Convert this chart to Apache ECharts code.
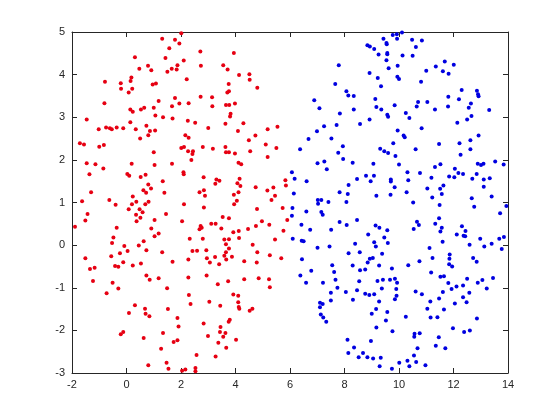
<!DOCTYPE html>
<html><head><meta charset="utf-8">
<script src="https://cdn.jsdelivr.net/npm/echarts@6/dist/echarts.min.js"></script>
<style>html,body{margin:0;padding:0;background:#fff}#c{width:560px;height:420px}</style>
</head><body><div id="c"></div>
<script>
const xTicks = [-2, 0, 2, 4, 6, 8, 10, 12, 14];
const yTicks = [-3, -2, -1, 0, 1, 2, 3, 4, 5];

const redPoints = [
[1.31,4.84],[1.78,4.82],[1.94,4.73],[1.57,4.62],[1.43,4.39],[0.31,4.41],[0.47,4.14],[0.18,3.93],[0.79,4.21],[0.91,4.10],[1.50,4.07],[1.66,4.14],[1.87,4.22],[1.84,4.12],[-0.79,3.83],[-0.21,3.80],[0.15,3.85],[-0.20,3.67],[0.21,3.67],[0.08,3.58],[0.96,3.77],[1.08,3.79],[1.18,3.38],[1.78,3.45],[-0.81,3.33],[0.14,3.18],[0.23,3.13],[0.53,3.18],[0.65,3.22],[1.00,3.22],[1.67,3.26],[1.94,3.32],[-1.46,2.95],[-1.02,2.72],[-0.75,2.76],[-0.61,2.74],[-0.54,2.72],[-0.36,2.76],[-0.12,2.74],[0.14,2.88],[0.34,2.72],[0.73,2.80],[0.80,2.58],[0.86,2.68],[1.05,2.69],[1.06,3.04],[1.34,3.00],[1.69,2.97],[-1.71,2.39],[-1.56,2.36],[-0.83,2.35],[0.50,2.50],
[2.01,4.97],[2.71,4.54],[3.94,4.51],[2.10,4.33],[2.73,4.21],[3.55,4.22],[3.71,4.12],[4.13,3.99],[4.51,4.01],[4.52,3.88],[4.80,3.69],[2.21,3.89],[3.75,3.78],[3.76,3.61],[3.70,3.58],[2.72,3.48],[3.14,3.47],[2.28,3.33],[3.15,3.26],[3.65,3.29],[3.77,3.29],[3.98,3.32],[2.25,2.92],[2.52,2.87],[3.00,2.75],[3.63,2.85],[3.80,3.02],[3.82,3.08],[4.29,2.86],[4.09,2.68],[5.18,2.72],[5.54,2.78],[2.16,2.58],[2.28,2.52],[4.73,2.57],[4.49,2.46],[5.11,2.36],
[-1.00,2.31],[1.00,2.18],[-1.46,1.92],[-1.14,1.90],[-0.85,1.80],[-1.36,1.66],[0.19,1.91],[1.03,1.88],[1.67,1.91],[0.03,1.67],[0.10,1.63],[0.52,1.60],[0.70,1.65],[1.33,1.50],[-1.30,1.24],[0.80,1.42],[0.90,1.33],[0.62,1.29],[0.72,1.23],[1.39,1.23],[0.23,1.14],[-0.63,1.06],[-1.63,1.03],[-0.40,0.95],[0.20,0.96],[0.36,1.02],[0.69,0.96],[0.81,1.02],[0.08,0.84],[0.48,0.84],[0.59,0.77],[0.35,0.71],[0.51,0.64],[0.37,0.56],[1.45,0.73],[-1.43,0.73],[-1.51,0.58],[1.03,0.59],[-1.89,0.43],[-0.36,0.41],[0.91,0.39],[1.18,0.27],[1.03,0.21],[-0.48,0.18],[-0.53,0.05],[0.63,0.09],[-0.08,-0.02],[0.45,-0.01],[0.04,-0.14],[0.73,-0.12],[-0.24,-0.19],[-0.56,-0.26],[1.31,-0.17],[-1.51,-0.31],
[2.01,2.28],[2.11,2.30],[2.26,2.20],[2.44,2.20],[2.42,2.14],[2.38,2.00],[2.80,2.30],[3.17,2.26],[3.63,2.30],[3.65,2.18],[3.76,2.18],[3.98,2.15],[4.54,2.20],[5.50,2.28],[5.18,2.07],[4.11,1.93],[4.21,1.90],[2.09,1.71],[2.10,1.66],[2.83,1.59],[3.30,1.54],[3.41,1.51],[3.26,1.44],[4.15,1.56],[4.07,1.45],[4.18,1.39],[4.74,1.36],[5.39,1.35],[5.83,1.52],[5.85,1.40],[2.84,1.29],[2.68,1.24],[2.88,1.16],[4.11,1.24],[3.94,1.18],[5.17,1.28],[5.45,1.16],[5.32,1.06],[4.05,1.04],[3.95,0.96],[2.11,0.96],[2.84,0.88],[4.79,0.85],[5.73,0.87],[3.53,0.66],[3.76,0.63],[2.04,0.56],[3.11,0.50],[3.27,0.50],[2.72,0.45],[2.76,0.41],[2.68,0.37],[3.48,0.39],[3.92,0.30],[4.12,0.33],[4.46,0.38],[4.75,0.45],[4.97,0.56],[5.24,0.48],[5.90,0.59],[5.76,0.34],[2.32,0.15],[2.80,0.15],[3.59,0.13],[3.76,0.14],[4.13,0.17],[4.63,0.01],[5.45,0.13],[3.65,0.02],[3.76,-0.08],[2.42,-0.14],[2.59,-0.13],[2.93,-0.12],[3.65,-0.17],[4.80,-0.17],[5.26,-0.24],[3.59,-0.25],[3.25,-0.28],[2.95,-0.31],[2.27,-0.34],[5.68,-0.31],
[-1.34,-0.56],[-1.17,-0.53],[-0.42,-0.49],[-0.30,-0.51],[-0.12,-0.40],[0.23,-0.48],[0.53,-0.43],[0.73,-0.71],[0.85,-0.81],[1.18,-0.78],[1.69,-0.39],[-1.23,-0.84],[-0.51,-0.88],[-0.30,-1.02],[-0.73,-1.13],[1.49,-1.01],[0.31,-1.41],[0.09,-1.59],[0.68,-1.49],[0.70,-1.61],[0.84,-1.67],[1.52,-1.50],[1.87,-1.71],[1.91,-1.91],[-0.21,-2.09],[-0.12,-2.04],[0.63,-2.18],[1.34,-2.06],[1.87,-2.23],[1.73,-2.27],[1.27,-2.43],[0.80,-2.82],[1.47,-2.76],[1.54,-2.90],
[3.06,-0.41],[3.40,-0.45],[3.66,-0.34],[3.87,-0.27],[4.32,-0.38],[4.78,-0.41],[2.27,-0.76],[2.94,-0.71],[3.35,-0.92],[3.73,-0.85],[4.32,-0.80],[4.85,-0.78],[5.23,-0.80],[5.26,-0.99],[2.29,-1.17],[2.35,-1.38],[3.04,-1.33],[3.44,-1.42],[3.92,-1.16],[4.10,-1.19],[4.10,-1.34],[4.12,-1.45],[4.14,-1.49],[4.52,-1.54],[4.62,-1.49],[2.83,-1.84],[3.45,-1.92],[3.75,-1.80],[3.79,-1.75],[3.43,-2.04],[3.63,-2.06],[2.99,-2.13],[3.55,-2.15],[4.02,-2.22],[3.37,-2.29],[3.66,-2.41],[2.57,-2.58],[3.27,-2.61],[2.04,-2.95],[2.16,-2.92],[2.53,-2.88],[2.53,-2.96]
];

const bluePoints = [
[9.77,4.93],[9.92,4.95],[9.43,4.84],[9.54,4.74],[9.55,4.71],[9.93,4.84],[8.84,4.69],[8.93,4.66],[9.09,4.60],[9.25,4.47],[9.57,4.51],[9.57,4.48],[9.54,4.34],[7.79,4.22],[9.62,4.15],[9.95,4.21],[8.92,4.04],[9.22,3.92],[9.94,3.95],[10.00,3.90],[7.66,3.78],[9.34,3.73],[8.07,3.61],[8.14,3.51],[8.34,3.50],[6.89,3.40],[9.13,3.43],[9.17,3.24],[9.35,3.18],[9.84,3.28],[7.08,3.21],[8.34,3.18],[7.83,3.09],[9.57,3.06],[9.60,3.01],[8.92,2.95],[8.57,2.84],[7.25,2.79],[7.71,2.82],[6.99,2.67],[9.95,2.69],[6.68,2.49],[7.52,2.50],[9.79,2.39],
[10.11,4.99],[10.48,4.82],[10.84,4.80],[10.62,4.65],[10.13,4.45],[10.50,4.44],[11.68,4.31],[11.35,4.19],[11.00,4.09],[11.61,4.08],[11.82,4.02],[12.01,4.23],[10.81,3.83],[12.30,3.64],[12.86,3.62],[12.90,3.54],[12.92,3.49],[11.81,3.48],[12.20,3.42],[10.70,3.36],[11.04,3.36],[10.65,3.25],[11.80,3.25],[11.32,3.18],[12.64,3.32],[12.56,3.22],[13.31,3.17],[10.25,3.10],[10.38,2.98],[12.66,3.03],[12.50,2.95],[12.14,2.87],[10.83,2.74],[10.17,2.57],[10.21,2.53],[12.92,2.57],[12.62,2.46],[12.22,2.39],[11.47,2.37],
[6.37,2.25],[7.94,2.32],[7.77,2.17],[7.95,2.02],[9.31,2.26],[9.46,2.20],[9.60,2.16],[9.87,2.09],[7.01,1.92],[7.26,1.96],[7.35,1.78],[8.30,1.93],[9.06,1.91],[10.00,1.89],[6.07,1.71],[6.17,1.56],[6.61,1.50],[8.46,1.55],[8.79,1.63],[9.08,1.63],[8.96,1.50],[9.70,1.54],[9.70,1.49],[9.84,1.36],[8.15,1.41],[6.14,1.21],[7.82,1.24],[8.12,1.20],[9.17,1.16],[9.69,1.18],[7.02,1.06],[7.03,0.97],[7.15,1.06],[7.41,1.01],[8.07,1.01],[6.09,0.87],[6.60,0.79],[7.15,0.78],[7.20,0.71],[6.07,0.69],[7.82,0.54],[8.08,0.47],[8.46,0.59],[6.42,0.48],[6.74,0.36],[7.51,0.36],[9.14,0.46],[9.28,0.41],[9.57,0.35],[8.87,0.25],[9.46,0.18],[6.10,0.15],[6.43,0.10],[6.50,0.09],[8.39,0.03],[9.09,0.07],[9.59,0.05],[7.01,-0.06],[7.45,-0.03],[8.15,-0.19],[8.56,-0.17],[9.15,-0.03],[9.38,-0.20],[8.93,-0.32],[9.04,-0.30],[6.44,-0.33],
[10.61,2.25],[12.62,2.25],[12.26,2.12],[11.32,1.83],[11.52,1.90],[10.31,1.71],[10.77,1.69],[12.05,1.79],[12.18,1.69],[12.35,1.67],[12.89,1.91],[13.01,1.88],[13.10,1.91],[13.53,1.96],[13.84,1.89],[12.85,1.67],[11.84,1.61],[12.03,1.59],[11.19,1.58],[10.34,1.52],[12.69,1.56],[13.11,1.54],[13.33,1.57],[11.04,1.33],[11.51,1.32],[11.63,1.40],[13.11,1.37],[10.28,1.24],[11.57,1.20],[11.22,1.12],[12.67,1.10],[13.40,1.14],[10.52,1.00],[11.49,0.94],[12.76,0.90],[13.94,0.92],[13.71,0.75],[11.47,0.63],[10.66,0.55],[10.73,0.47],[11.33,0.50],[11.57,0.41],[11.52,0.32],[10.54,0.38],[12.31,0.44],[12.44,0.33],[12.37,0.22],[12.43,0.21],[12.12,0.25],[12.98,0.15],[13.68,0.15],[13.85,0.19],[11.60,0.08],[12.59,0.01],[13.13,-0.03],[13.40,0.03],[13.77,-0.09],[11.12,-0.07],[11.86,-0.22],[11.85,-0.32],[11.23,-0.30],[12.72,-0.30],
[8.85,-0.41],[6.38,-0.71],[6.78,-0.60],[7.55,-0.47],[7.62,-0.63],[8.30,-0.48],[8.57,-0.59],[8.76,-0.57],[9.27,-0.48],[9.74,-0.55],[6.59,-0.88],[7.21,-0.88],[7.67,-0.81],[7.74,-1.00],[8.54,-0.85],[9.21,-0.84],[9.41,-0.81],[9.67,-0.81],[9.85,-0.79],[9.93,-0.88],[9.37,-1.02],[9.90,-1.03],[9.91,-1.19],[9.85,-1.27],[8.05,-1.10],[8.46,-1.06],[8.76,-1.14],[8.91,-1.17],[9.09,-1.15],[7.50,-1.12],[8.31,-1.28],[7.50,-1.30],[9.27,-1.32],[7.10,-1.35],[7.20,-1.38],[7.10,-1.46],[9.16,-1.50],[9.00,-1.61],[9.57,-1.57],[7.13,-1.63],[7.22,-1.70],[7.33,-1.80],[9.52,-1.77],[9.17,-1.93],[9.76,-2.02],[8.11,-2.22],[8.97,-2.25],[8.35,-2.40],[8.14,-2.53],[8.68,-2.53],[8.52,-2.63],[8.84,-2.63],[9.05,-2.66],[9.33,-2.64],[9.29,-2.84],[9.74,-2.90],[10.01,-2.76],
[10.34,-0.47],[10.75,-0.38],[11.84,-0.45],[11.95,-0.50],[12.85,-0.39],[11.18,-0.64],[11.52,-0.74],[11.65,-0.73],[12.50,-0.79],[12.89,-0.88],[13.06,-0.82],[13.45,-0.77],[13.22,-1.02],[11.81,-0.89],[11.93,-1.03],[12.11,-0.97],[12.35,-0.95],[12.58,-1.12],[10.61,-1.09],[10.84,-1.15],[11.61,-1.10],[11.47,-1.25],[12.35,-1.22],[11.15,-1.32],[12.05,-1.37],[12.48,-1.34],[11.04,-1.49],[11.65,-1.51],[11.16,-1.70],[11.41,-1.69],[10.25,-1.68],[12.86,-1.72],[11.98,-1.95],[12.39,-2.04],[12.60,-2.00],[10.57,-2.08],[10.56,-2.15],[10.76,-2.07],[11.46,-2.16],[11.35,-2.36],[11.70,-2.42],[10.68,-2.42],[10.55,-2.59],[10.31,-2.71],[10.63,-2.74],[10.38,-2.84],[10.97,-2.82]
];

const axisColor = '#262626';
const font = '"Liberation Sans", Arial, Helvetica, sans-serif';
function xAxisCfg(pos, showLabels) {
  return {
    type: 'value', position: pos, min: xTicks[0], max: xTicks[xTicks.length-1], interval: 2,
    axisLine: {show: true, onZero: false, lineStyle: {color: axisColor, width: 1}},
    axisTick: {show: true, inside: true, length: 5, lineStyle: {color: axisColor}},
    axisLabel: {show: showLabels, color: axisColor, fontSize: 11, fontFamily: font, margin: 6},
    splitLine: {show: false}
  };
}
function yAxisCfg(pos, showLabels) {
  return {
    type: 'value', position: pos, min: yTicks[0], max: yTicks[yTicks.length-1], interval: 1,
    axisLine: {show: true, onZero: false, lineStyle: {color: axisColor, width: 1}},
    axisTick: {show: true, inside: true, length: 5, lineStyle: {color: axisColor}},
    axisLabel: {show: showLabels, color: axisColor, fontSize: 11, fontFamily: font, margin: 7},
    splitLine: {show: false}
  };
}

const chart = echarts.init(document.getElementById('c'), null, {renderer: 'canvas'});
chart.setOption({
  animation: false,
  backgroundColor: '#ffffff',
  grid: {left: 72, right: 52, top: 32, bottom: 47, containLabel: false},
  xAxis: [xAxisCfg('bottom', true), xAxisCfg('top', false)],
  yAxis: [yAxisCfg('left', true), yAxisCfg('right', false)],
  series: [
    {type: 'scatter', xAxisIndex: 0, yAxisIndex: 0, data: redPoints, symbol: 'circle', symbolSize: 4,
     itemStyle: {color: '#e60012', opacity: 1}, clip: false},
    {type: 'scatter', xAxisIndex: 0, yAxisIndex: 0, data: bluePoints, symbol: 'circle', symbolSize: 4,
     itemStyle: {color: '#0000e0', opacity: 1}, clip: false}
  ]
});
</script></body></html>
